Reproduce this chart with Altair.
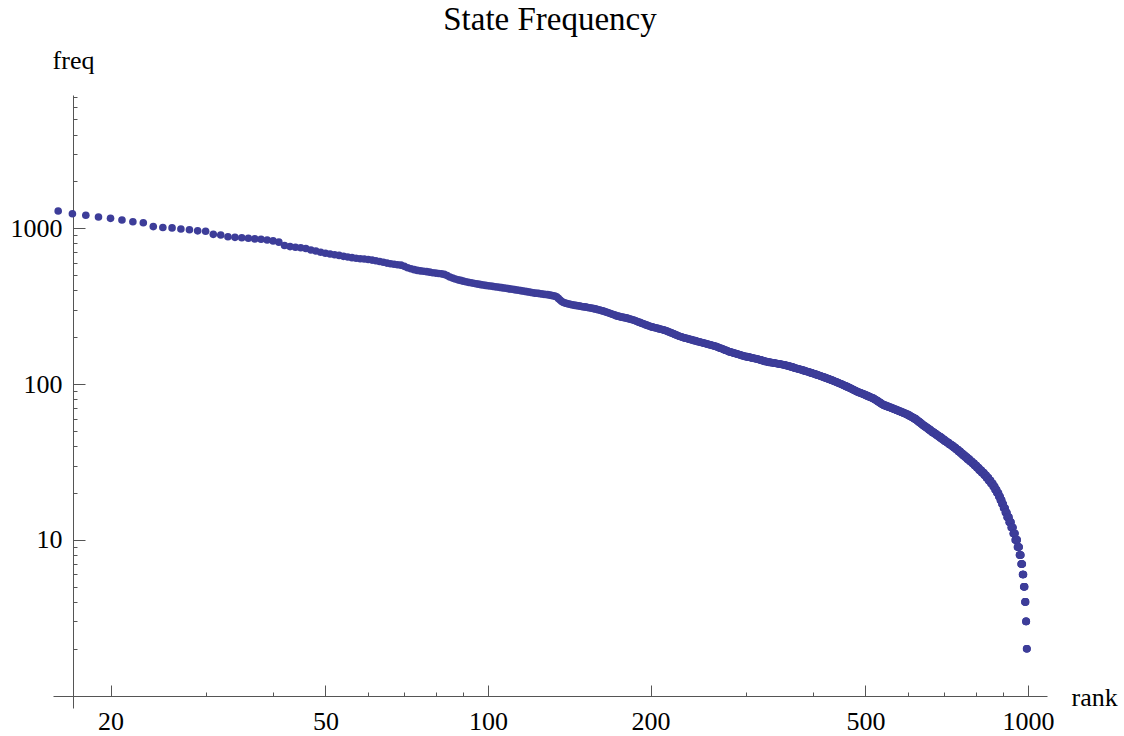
import altair as alt
import pandas as pd

# ---- data ----
RANK_START = 16  # first visible rank
HEAD_FREQ = [
    1291, 1241, 1212, 1182, 1159, 1130, 1102, 1085, 1026, 1012,
    1006, 990, 978, 963, 958, 915, 906, 883, 875, 870,
    863, 855, 850, 842, 830, 815, 775, 763, 756, 750,
    742, 726, 715, 702, 692, 684, 677, 670, 661, 654,
    648, 642, 638, 635, 631, 625, 619, 612, 605, 598,
    592, 588, 584, 580, 570, 558, 550, 543, 537, 533,
    530, 527, 523, 519, 516, 513, 510, 506, 497, 487,
    479, 473, 467, 463, 458, 454, 450, 447, 444, 441,
    438, 435, 433, 430, 428, 426, 424, 422, 420, 418,
    416, 414, 412, 410, 408, 406, 404, 402, 400, 398,
    396, 394, 392, 390, 388, 386, 384, 383, 382, 380,
    379, 377, 376, 375, 373, 371, 369, 367, 364, 355,
    346, 339, 334, 331, 329, 327, 325, 323, 322, 320,
    319, 318, 317, 315, 314, 313, 312, 310, 309, 308,
    307, 305, 304, 302, 300, 299, 297, 295, 293, 291,
    289, 287, 285, 283, 281, 279, 277, 274, 273, 272,
    270, 269, 268, 267, 266, 265, 263, 262, 261, 259,
    258, 256, 254, 252, 250, 249, 247, 245, 244, 242,
    240, 239, 237, 236, 234, 233, 232, 231, 230, 229,
    228, 227, 226, 225, 224, 223, 222, 221, 220, 218,
    217, 215, 214, 213, 211, 210, 208, 207, 206, 204,
    203, 202, 201, 200, 199, 198, 197, 197, 196, 195,
    194, 193, 193, 192, 191, 190, 190, 189, 188, 187,
    187, 186, 185, 185, 184, 183, 183, 182, 181, 181,
    180, 179, 179, 178, 177, 177, 176, 175, 175, 174,
    173, 172, 171, 170, 170, 169, 168, 167, 166, 165,
    165, 164, 163, 162, 161, 161, 160, 160, 159, 158,
    158, 157, 157, 156, 156, 155, 155, 154, 153, 153,
    152, 152, 151, 151, 150, 150, 150, 149, 149, 149,
]
# tail: frequency value and how many consecutive ranks share it
TAIL_FREQ = [
    148, 147, 146, 145, 144, 143, 142, 141, 140, 139,
    138, 137, 136, 135, 134, 133, 132, 131, 130, 129,
    128, 127, 126, 125, 124, 123, 122, 121, 120, 119,
    118, 117, 116, 115, 114, 113, 112, 111, 110, 109,
    108, 107, 106, 105, 104, 103, 102, 101, 100, 99,
    98, 97, 96, 95, 94, 93, 92, 91, 90, 89,
    88, 87, 86, 85, 84, 83, 82, 81, 80, 79,
    78, 77, 76, 75, 74, 73, 72, 71, 70, 69,
    68, 67, 66, 65, 64, 63, 62, 61, 60, 59,
    58, 57, 56, 55, 54, 53, 52, 51, 50, 49,
    48, 47, 46, 45, 44, 43, 42, 41, 40, 39,
    38, 37, 36, 35, 34, 33, 32, 31, 30, 29,
    28, 27, 26, 25, 24, 23, 22, 21, 20, 19,
    18, 17, 16, 15, 14, 13, 12, 11, 10, 9,
    8, 7, 6, 5, 4, 3, 2,
]
TAIL_COUNT = [
    2, 3, 3, 3, 2, 2, 2, 2, 3, 3,
    4, 4, 4, 4, 4, 4, 3, 3, 3, 3,
    2, 3, 3, 3, 3, 3, 3, 3, 3, 3,
    3, 3, 3, 3, 3, 3, 3, 3, 3, 3,
    3, 3, 3, 3, 3, 3, 3, 3, 3, 3,
    3, 3, 3, 3, 3, 3, 3, 3, 3, 4,
    4, 4, 4, 4, 4, 4, 4, 4, 3, 3,
    3, 3, 3, 3, 4, 5, 6, 6, 6, 6,
    6, 6, 6, 6, 6, 5, 5, 5, 5, 4,
    4, 4, 4, 4, 5, 5, 5, 5, 5, 6,
    6, 6, 6, 6, 6, 7, 7, 7, 7, 7,
    7, 7, 7, 7, 8, 8, 8, 8, 8, 8,
    9, 9, 8, 8, 8, 8, 7, 7, 7, 6,
    6, 6, 7, 7, 8, 8, 8, 8, 9, 8,
    7, 6, 5, 5, 4, 3, 3,
]

X_MAJOR = [20, 50, 100, 200, 500, 1000]
X_MINOR = [30, 40, 60, 70, 80, 90, 300, 400, 600, 700, 800, 900]
Y_LABELS = [10, 100, 1000]
Y_MAJOR = [1, 10, 100, 1000]
Y_MINOR = [2, 3, 4, 5, 6, 7, 8, 9,
           20, 30, 40, 50, 60, 70, 80, 90,
           200, 300, 400, 500, 600, 700, 800, 900,
           2000, 3000, 4000, 5000, 6000, 7000]
X_DOMAIN = [15.65, 1084.4]
Y_DOMAIN = [0.834, 7172]

freqs = HEAD_FREQ + [f for f, c in zip(TAIL_FREQ, TAIL_COUNT) for _ in range(c)]
ranks = list(range(RANK_START, RANK_START + len(freqs)))
df = pd.DataFrame({"rank": ranks, "freq": freqs})

FONT = "Liberation Serif"
AXIS_COLOR = "#555555"

xscale = alt.Scale(type="log", domain=X_DOMAIN, nice=False, zero=False)
yscale = alt.Scale(type="log", domain=Y_DOMAIN, nice=False, zero=False)

base = alt.Chart(df)

points = base.mark_circle(size=58, color="#3d3d99", opacity=1).encode(
    x=alt.X("rank:Q", scale=xscale, axis=alt.Axis(
        orient="bottom", values=X_MAJOR, format="d", ticks=False, tickSize=0,
        domain=False, grid=False, labelFont=FONT, labelFontSize=26,
        labelColor="black", labelPadding=12, labelFlush=False,
        labelOverlap=False, offset=-12,
        title="rank", titleX=1018, titleY=9, titleAlign="left",
        titleBaseline="alphabetic", titleAngle=0, titleFont=FONT,
        titleFontSize=26, titleFontWeight="normal", titleColor="black")),
    y=alt.Y("freq:Q", scale=yscale, axis=alt.Axis(
        orient="left", values=Y_LABELS, format="d", ticks=False, tickSize=0,
        domain=False, grid=False, labelFont=FONT, labelFontSize=26,
        labelColor="black", labelPadding=11, labelFlush=False,
        labelOverlap=False, offset=-20,
        title="freq", titleX=0, titleY=-27, titleAlign="center",
        titleBaseline="alphabetic", titleAngle=0, titleFont=FONT,
        titleFontSize=26, titleFontWeight="normal", titleColor="black")),
)

major = base.mark_circle(size=0, opacity=0).encode(
    x=alt.X("rank:Q", scale=xscale, axis=alt.Axis(
        orient="top", values=X_MAJOR, labels=False, ticks=True, tickSize=11,
        tickColor=AXIS_COLOR, tickWidth=1, domain=True, domainColor=AXIS_COLOR,
        domainWidth=1, grid=False, offset=-601, title="")),
    y=alt.Y("freq:Q", scale=yscale, axis=alt.Axis(
        orient="right", values=Y_MAJOR, labels=False, ticks=True, tickSize=12,
        tickColor=AXIS_COLOR, tickWidth=1, domain=True, domainColor=AXIS_COLOR,
        domainWidth=1, grid=False, offset=-974, title="")),
)

minor = base.mark_circle(size=0, opacity=0).encode(
    x=alt.X("rank:Q", scale=xscale, axis=alt.Axis(
        orient="top", values=X_MINOR, labels=False, ticks=True, tickSize=4,
        tickColor=AXIS_COLOR, tickWidth=1, domain=False, grid=False,
        offset=-601, title="")),
    y=alt.Y("freq:Q", scale=yscale, axis=alt.Axis(
        orient="right", values=Y_MINOR, labels=False, ticks=True, tickSize=4,
        tickColor=AXIS_COLOR, tickWidth=1, domain=False, grid=False,
        offset=-974, title="")),
)

chart = alt.layer(major, minor, points).resolve_axis(
    x="independent", y="independent"
).properties(
    width=994,
    height=613,
    autosize=alt.AutoSizeParams(type="none"),
    padding={"left": 53, "top": 95, "right": 77, "bottom": 28},
    title=alt.TitleParams(
        "State Frequency", font=FONT, fontSize=33, fontWeight="normal",
        color="black", anchor="middle", frame="group", baseline="alphabetic",
        offset=17, dy=33),
    background="white",
).configure_view(strokeWidth=0)

chart.save("out.html", embed_options={"renderer": "svg", "actions": False})
